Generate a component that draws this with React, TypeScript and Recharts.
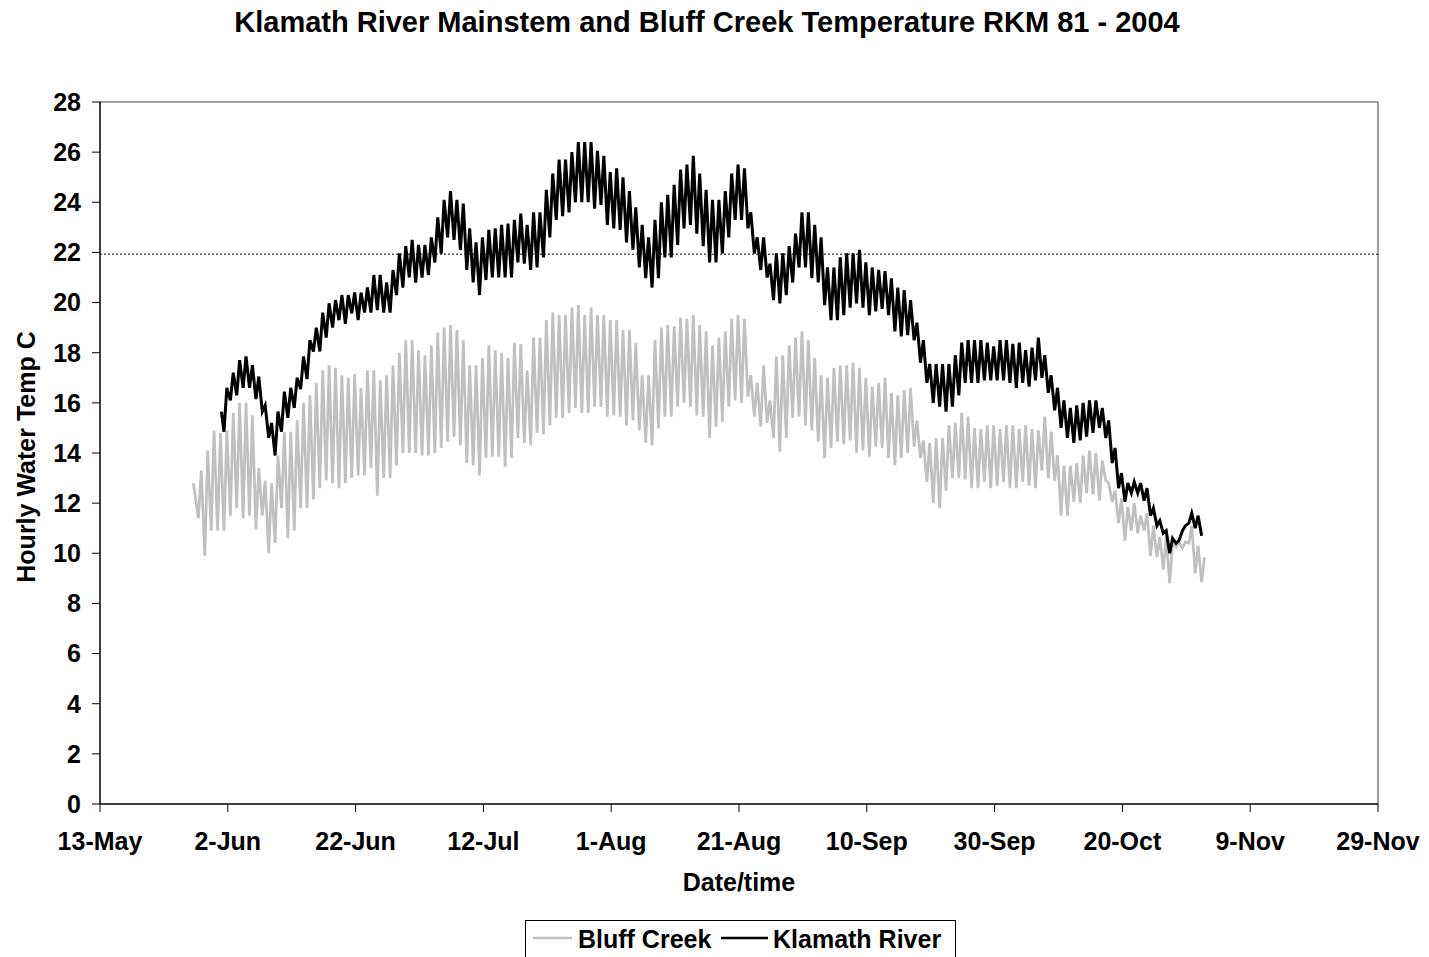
import { LineChart, Line, XAxis, YAxis, ReferenceLine } from "recharts";

// day 0 = 13-May-2004
const tickDays = [0, 20, 40, 60, 80, 100, 120, 140, 160, 180, 200];
const tickLabels = ["13-May", "2-Jun", "22-Jun", "12-Jul", "1-Aug", "21-Aug", "10-Sep", "30-Sep", "20-Oct", "9-Nov", "29-Nov"];
const tempTicks = [0, 2, 4, 6, 8, 10, 12, 14, 16, 18, 20, 22, 24, 26, 28];

// first logged readings (day, temp) before the daily cycles
const bluffFirst = { t: 14.6, v: 12.8 };
const klamathFirst = { t: 19.0, v: 15.65 };

// Bluff Creek, daily lows / highs starting 28-May (day 15)
const bluffStart = 15;
const bluffLows = [
  11.4, 9.9, 10.9, 10.9, 10.9, 11.5, 11.8, 11.4, 11.5, 10.96,
  11.5, 10.0, 10.4, 11.8, 10.6, 10.9, 11.8, 11.8, 12.15, 12.6,
  12.9, 12.8, 12.6, 12.8, 13.0, 13.1, 13.1, 13.4, 12.3, 13.0,
  13.0, 13.5, 14.0, 14.0, 14.0, 13.9, 13.9, 14.0, 14.2, 14.45,
  14.65, 14.3, 13.6, 13.5, 13.1, 13.8, 13.85, 13.85, 13.45, 13.8,
  14.6, 14.4, 14.3, 14.8, 14.75, 15.1, 15.4, 15.4, 15.6, 15.8,
  15.6, 15.6, 15.85, 15.85, 15.45, 15.5, 15.45, 15.1, 15.3, 14.9,
  14.4, 14.3, 14.98, 15.45, 15.45, 15.85, 16.0, 15.85, 15.5, 15.45,
  14.6, 15.05, 15.25, 15.85, 16.1, 16.0, 16.25, 15.45, 15.05, 15.2,
  14.6, 14.05, 14.6, 15.4, 15.45, 15.1, 14.9, 14.45, 13.8, 14.2,
  14.45, 14.35, 14.5, 14.0, 14.1, 13.85, 14.25, 14.2, 13.8, 13.5,
  13.8, 14.0, 14.25, 13.8, 12.85, 12.0, 11.8, 12.5, 13.0, 13.0,
  12.95, 12.6, 12.6, 12.85, 12.6, 12.7, 12.85, 12.6, 12.6, 12.85,
  12.7, 12.6, 13.3, 13.0, 12.9, 11.5, 11.5, 12.05, 12.0, 12.4,
  12.35, 12.1, 12.9, 12.05, 11.2, 10.5, 10.9, 10.8, 10.9, 9.9,
  9.85, 9.35, 8.8, 10.25, 10.2, 10.4, 9.2, 8.85,
];
const bluffHighs = [
  13.3, 14.1, 14.9, 14.8, 14.9, 15.6, 16.0, 16.0, 15.5, 13.4,
  12.9, 12.8, 13.9, 14.85, 14.85, 15.3, 16.0, 16.3, 16.8, 17.3,
  17.5, 17.4, 17.1, 17.0, 17.15, 16.6, 17.3, 17.3, 16.9, 17.1,
  17.5, 18.0, 18.5, 18.5, 18.1, 17.9, 18.3, 18.8, 19.0, 19.1,
  18.9, 18.5, 17.5, 17.5, 17.8, 18.3, 18.1, 18.0, 17.8, 18.4,
  18.35, 17.3, 18.6, 18.6, 19.3, 19.6, 19.5, 19.5, 19.8, 19.9,
  19.5, 19.8, 19.5, 19.5, 19.3, 19.3, 18.9, 18.9, 18.4, 17.1,
  17.1, 18.5, 19.0, 19.1, 19.05, 19.4, 19.35, 19.5, 19.1, 18.85,
  18.3, 18.6, 18.85, 19.35, 19.5, 19.35, 17.1, 16.8, 17.5, 16.1,
  17.85, 17.9, 18.3, 18.6, 18.85, 18.5, 17.8, 17.1, 17.0, 17.4,
  17.5, 17.5, 17.6, 17.4, 17.0, 16.65, 16.8, 17.0, 16.4, 16.3,
  16.5, 16.6, 15.3, 14.5, 14.4, 14.6, 14.6, 15.1, 15.2, 15.6,
  15.45, 15.0, 14.95, 15.1, 15.1, 14.95, 15.1, 15.1, 14.95, 15.1,
  14.95, 14.9, 15.45, 14.85, 13.9, 13.5, 13.5, 13.6, 13.9, 14.1,
  14.0, 13.7, 12.8, 12.5, 12.2, 11.85, 12.0, 11.5, 11.6, 11.1,
  10.65, 10.65, 10.45, 10.45, 10.45, 11.1, 10.3, 9.85,
];

// Klamath River, daily lows / highs starting 1-Jun (day 19)
const klamathStart = 19;
const klamathLows = [
  14.85, 16.1, 16.3, 16.6, 16.6, 16.15, 15.65, 14.6, 13.9, 14.85,
  15.4, 15.8, 16.55, 16.95, 18.05, 18.05, 18.6, 19.0, 19.3, 19.15,
  19.57, 19.3, 19.6, 19.6, 19.7, 19.6, 19.6, 20.3, 20.6, 21.0,
  20.8, 21.0, 21.1, 21.6, 21.95, 22.6, 22.5, 22.1, 21.3, 20.8,
  20.3, 20.9, 21.0, 21.0, 21.0, 21.0, 21.6, 21.55, 21.3, 21.4,
  21.8, 22.6, 23.3, 23.45, 23.6, 24.0, 24.0, 24.0, 23.75, 23.9,
  23.1, 22.96, 22.9, 22.4, 22.1, 21.4, 20.97, 20.6, 20.97, 21.8,
  21.8, 22.3, 22.96, 23.1, 22.75, 22.25, 21.6, 21.6, 21.96, 22.6,
  23.3, 23.3, 22.96, 21.96, 21.3, 21.0, 20.1, 19.97, 20.3, 20.8,
  21.4, 21.4, 20.97, 20.8, 19.9, 19.3, 19.3, 19.5, 19.8, 19.97,
  19.8, 19.5, 19.65, 19.75, 19.5, 18.85, 18.65, 18.7, 18.5, 17.6,
  16.8, 16.0, 15.85, 15.65, 15.85, 16.3, 16.8, 16.8, 16.8, 16.9,
  16.9, 16.9, 16.9, 16.8, 16.6, 16.8, 16.65, 16.9, 17.0, 16.4,
  15.7, 15.0, 14.6, 14.4, 14.5, 14.65, 14.8, 15.0, 14.6, 13.6,
  12.6, 12.05, 12.4, 12.4, 12.1, 11.5, 11.1, 10.8, 10.0, 10.4,
  10.9, 11.2, 11.0, 10.7,
];
const klamathHighs = [
  16.6, 17.2, 17.7, 17.85, 17.5, 17.05, 15.9, 15.2, 15.65, 16.45,
  16.6, 17.0, 17.85, 18.5, 19.0, 19.6, 19.97, 20.1, 20.3, 20.3,
  20.4, 20.4, 20.6, 21.1, 21.1, 20.8, 21.3, 21.96, 22.25, 22.5,
  22.3, 22.3, 22.6, 23.4, 24.1, 24.45, 24.1, 23.95, 22.96, 22.4,
  22.6, 22.9, 22.96, 23.1, 23.15, 23.3, 23.55, 23.1, 23.6, 23.6,
  24.5, 25.15, 25.7, 25.7, 26.0, 26.4, 26.4, 26.4, 26.05, 25.85,
  25.2, 25.35, 25.0, 24.45, 23.8, 23.1, 22.6, 23.3, 24.0, 24.3,
  24.7, 25.3, 25.5, 25.85, 25.15, 24.5, 24.1, 24.1, 24.45, 25.15,
  25.5, 25.35, 23.6, 22.6, 22.6, 21.55, 21.96, 21.96, 22.25, 22.75,
  23.6, 23.6, 23.1, 22.6, 21.4, 21.4, 21.8, 21.96, 21.96, 22.1,
  21.6, 21.4, 21.3, 21.25, 20.97, 20.6, 20.5, 20.1, 19.2, 18.5,
  17.55, 17.55, 17.55, 17.55, 17.9, 18.4, 18.5, 18.5, 18.5, 18.4,
  18.25, 18.5, 18.5, 18.35, 18.4, 18.1, 18.2, 18.6, 17.9, 17.1,
  16.6, 16.1, 15.8, 15.9, 16.0, 16.1, 16.1, 15.8, 15.3, 14.2,
  13.2, 12.8, 12.85, 12.8, 12.6, 11.8, 11.3, 10.9, 10.6, 10.5,
  11.1, 11.6, 11.5,
];

const criterion = 21.93;

// each day: low near 0.4 day, high near 0.85 day (missing high = end of record)
const toPoints = (start: number, lows: number[], highs: number[]) =>
  lows.flatMap((lo, i) => {
    const pts = [{ t: start + i + 0.4, v: lo }];
    if (highs[i] !== undefined) pts.push({ t: start + i + 0.85, v: highs[i] });
    return pts;
  });

const bluffData = [bluffFirst, ...toPoints(bluffStart, bluffLows, bluffHighs)];
const klamathData = [klamathFirst, ...toPoints(klamathStart, klamathLows, klamathHighs)];

const FONT = "'Liberation Sans', Arial, Helvetica, sans-serif";
const tickStyle = { fontSize: 25, fontWeight: "bold", fill: "#000", fontFamily: FONT };

export default function App() {
  return (
    <div style={{ position: "fixed", left: 0, top: 0, width: 1429, height: 957, background: "#fff", fontFamily: FONT }}>
      <LineChart width={1429} height={957} margin={{ top: 102, right: 51, left: 40, bottom: 113 }}>
        <XAxis
          type="number"
          dataKey="t"
          domain={[0, 200]}
          ticks={tickDays}
          interval={0}
          tickFormatter={(d: number) => tickLabels[tickDays.indexOf(d)]}
          tick={tickStyle}
          tickSize={8}
          tickMargin={20}
          height={40}
          axisLine={{ stroke: "#000", strokeWidth: 1.5 }}
          tickLine={{ stroke: "#000" }}
        />
        <YAxis
          type="number"
          domain={[0, 28]}
          ticks={tempTicks}
          interval={0}
          tick={tickStyle}
          tickSize={8}
          tickMargin={11}
          width={60}
          axisLine={{ stroke: "#000", strokeWidth: 1.5 }}
          tickLine={{ stroke: "#000" }}
        />
        <ReferenceLine y={28} stroke="#808080" strokeWidth={1.5} />
        <ReferenceLine x={200} stroke="#808080" strokeWidth={1.5} />
        <ReferenceLine y={criterion} stroke="#000" strokeWidth={1} strokeDasharray="2 2" />
        <Line
          data={bluffData}
          dataKey="v"
          type="linear"
          stroke="#c0c0c0"
          strokeWidth={2.75}
          dot={false}
          isAnimationActive={false}
        />
        <Line
          data={klamathData}
          dataKey="v"
          type="linear"
          stroke="#000"
          strokeWidth={3}
          dot={false}
          isAnimationActive={false}
        />
      </LineChart>
      <svg width={1429} height={957} style={{ position: "absolute", left: 0, top: 0, pointerEvents: "none" }}>
        <g fontFamily={FONT} fontWeight="bold" fill="#000">
          <text x={707} y={32} fontSize={29} textAnchor="middle">
            Klamath River Mainstem and Bluff Creek Temperature RKM 81 - 2004
          </text>
          <text transform="translate(35,457) rotate(-90)" fontSize={25} textAnchor="middle">
            Hourly Water Temp C
          </text>
          <text x={739} y={891} fontSize={25} textAnchor="middle">
            Date/time
          </text>
          <rect x={525.5} y={920.5} width={430} height={50} fill="#fff" stroke="#000" strokeWidth={1} />
          <line x1={533} y1={938} x2={572} y2={938} stroke="#c0c0c0" strokeWidth={2.5} />
          <text x={578} y={948} fontSize={25}>Bluff Creek</text>
          <line x1={721} y1={938} x2={768} y2={938} stroke="#000" strokeWidth={2.5} />
          <text x={773} y={948} fontSize={25}>Klamath River</text>
        </g>
      </svg>
    </div>
  );
}
